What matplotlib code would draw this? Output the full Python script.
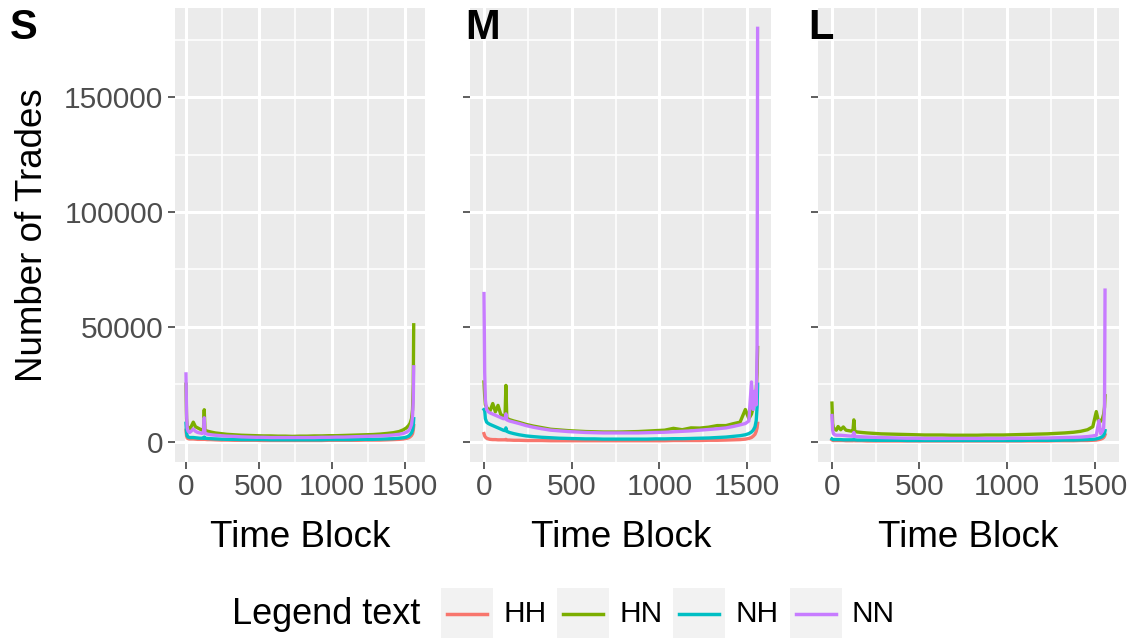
"""Number of trades per time block, three panels (S / M / L), ggplot-like look."""
import matplotlib
matplotlib.use('Agg')
import matplotlib.pyplot as plt
import numpy as np
from matplotlib.patches import Rectangle
from matplotlib.lines import Line2D

plt.rcParams['font.family'] = ['Liberation Sans', 'DejaVu Sans']

# ---- data (in thousands of trades) ----
blocks = [0, 4, 8, 15, 25, 35, 50, 65, 80, 95,
          110, 120, 125, 130, 145, 170, 200, 240, 280, 330,
          380, 430, 480, 530, 580, 630, 680, 730, 780, 830,
          880, 930, 980, 1030, 1080, 1130, 1180, 1230, 1280, 1330,
          1380, 1420, 1460, 1490, 1510, 1525, 1535, 1545, 1552, 1557,
          1560]

s_hh = [5.0, 2.5, 1.6, 1.3, 1.2, 1.2, 1.2, 1.1, 1.0, 1.0,
        1.0, 1.0, 1.4, 1.0, 0.9, 0.9, 0.8, 0.7, 0.7, 0.6,
        0.6, 0.6, 0.6, 0.5, 0.5, 0.5, 0.5, 0.5, 0.5, 0.5,
        0.5, 0.5, 0.6, 0.6, 0.6, 0.6, 0.6, 0.7, 0.7, 0.7,
        0.8, 0.9, 1.0, 1.2, 1.4, 1.7, 2.1, 2.7, 3.5, 5.0,
        7.0]
s_hn = [25.0, 10.0, 7.0, 6.0, 5.5, 6.5, 8.5, 6.5, 6.0, 5.5,
        5.0, 5.5, 13.9, 5.0, 4.6, 4.2, 3.8, 3.5, 3.2, 3.0,
        2.8, 2.7, 2.6, 2.5, 2.5, 2.4, 2.4, 2.3, 2.4, 2.4,
        2.5, 2.5, 2.6, 2.6, 2.7, 2.8, 2.9, 3.0, 3.1, 3.3,
        3.6, 3.9, 4.4, 5.2, 6.0, 7.0, 8.0, 10.0, 14.0, 25.0,
        50.9]
s_nh = [8.0, 4.0, 2.5, 2.0, 1.8, 1.8, 1.8, 1.7, 1.6, 1.5,
        1.5, 1.5, 2.0, 1.5, 1.4, 1.3, 1.2, 1.1, 1.0, 1.0,
        0.9, 0.9, 0.9, 0.9, 0.8, 0.8, 0.8, 0.8, 0.8, 0.8,
        0.8, 0.8, 0.9, 0.9, 0.9, 0.9, 1.0, 1.0, 1.0, 1.1,
        1.2, 1.3, 1.5, 1.7, 2.0, 2.4, 3.0, 3.8, 5.0, 7.0,
        10.0]
s_nn = [29.5, 12.0, 6.0, 4.5, 4.0, 4.5, 5.5, 4.5, 4.0, 3.8,
        3.6, 4.0, 10.4, 3.6, 3.3, 3.0, 2.8, 2.6, 2.4, 2.3,
        2.1, 2.0, 1.9, 1.9, 1.8, 1.8, 1.8, 1.8, 1.8, 1.8,
        1.8, 1.9, 1.9, 2.0, 2.0, 2.1, 2.2, 2.3, 2.4, 2.5,
        2.7, 2.9, 3.2, 3.6, 4.1, 4.8, 5.8, 7.5, 11.0, 18.0,
        32.6]

m_hh = [3.5, 2.5, 2.0, 1.5, 1.2, 1.0, 0.9, 0.9, 0.8, 0.8,
        0.8, 0.8, 1.0, 0.7, 0.7, 0.6, 0.6, 0.5, 0.5, 0.5,
        0.4, 0.4, 0.4, 0.4, 0.4, 0.4, 0.4, 0.4, 0.4, 0.4,
        0.4, 0.4, 0.4, 0.4, 0.5, 0.5, 0.5, 0.5, 0.6, 0.6,
        0.7, 0.8, 0.9, 1.1, 1.4, 1.8, 2.4, 3.2, 4.5, 6.0,
        8.0]
m_hn = [26.0, 20.0, 16.0, 15.0, 14.0, 13.5, 16.6, 13.0, 15.8, 12.0,
        11.0, 11.0, 24.5, 10.2, 9.6, 9.0, 8.4, 7.5, 6.8, 6.1,
        5.4, 5.1, 4.8, 4.6, 4.4, 4.3, 4.2, 4.2, 4.2, 4.3,
        4.4, 4.6, 4.8, 5.0, 5.8, 5.2, 6.0, 5.9, 6.3, 7.0,
        7.0, 7.8, 8.5, 14.0, 10.0, 12.0, 15.0, 18.0, 22.0, 30.0,
        41.0]
m_nh = [14.0, 13.6, 10.0, 8.5, 7.9, 7.5, 7.0, 6.5, 6.0, 5.5,
        5.0, 4.8, 6.0, 4.5, 4.0, 3.5, 3.0, 2.5, 2.2, 1.9,
        1.7, 1.5, 1.4, 1.3, 1.2, 1.2, 1.1, 1.1, 1.1, 1.1,
        1.1, 1.1, 1.2, 1.2, 1.3, 1.3, 1.4, 1.5, 1.6, 1.8,
        2.0, 2.3, 2.6, 3.0, 3.5, 4.2, 5.0, 6.5, 9.2, 15.0,
        25.0]
m_nn = [64.5, 30.0, 18.0, 14.0, 13.0, 12.5, 12.0, 11.5, 11.0, 10.5,
        10.0, 10.0, 12.1, 9.5, 9.0, 8.5, 7.9, 7.0, 6.3, 5.6,
        5.0, 4.7, 4.4, 4.2, 4.0, 3.9, 3.8, 3.8, 3.8, 3.8,
        3.8, 3.9, 4.0, 4.1, 4.3, 4.5, 4.7, 5.0, 5.3, 5.6,
        6.0, 6.6, 7.3, 7.9, 9.0, 26.0, 14.0, 22.0, 16.0, 40.0,
        180.0]

l_hh = [0.8, 0.6, 0.5, 0.5, 0.5, 0.5, 0.5, 0.5, 0.4, 0.4,
        0.4, 0.4, 0.6, 0.4, 0.4, 0.4, 0.3, 0.3, 0.3, 0.3,
        0.3, 0.3, 0.3, 0.3, 0.3, 0.3, 0.3, 0.3, 0.3, 0.3,
        0.3, 0.3, 0.3, 0.3, 0.3, 0.3, 0.3, 0.3, 0.4, 0.4,
        0.4, 0.5, 0.5, 0.6, 0.7, 0.9, 1.1, 1.4, 1.8, 2.4,
        3.0]
l_hn = [16.8, 8.0, 6.0, 5.5, 5.0, 6.6, 5.2, 6.4, 5.0, 4.8,
        4.6, 4.8, 9.5, 4.5, 4.2, 4.0, 3.8, 3.6, 3.4, 3.3,
        3.2, 3.1, 3.0, 2.9, 2.9, 2.9, 2.8, 2.8, 2.8, 2.8,
        2.9, 2.9, 2.9, 3.0, 3.1, 3.2, 3.3, 3.4, 3.6, 3.8,
        4.1, 4.5, 5.2, 6.5, 13.1, 8.0, 9.0, 10.0, 12.0, 15.0,
        20.0]
l_nh = [1.2, 1.0, 0.9, 0.9, 0.9, 0.9, 0.9, 0.8, 0.8, 0.8,
        0.8, 0.8, 1.0, 0.8, 0.7, 0.7, 0.7, 0.6, 0.6, 0.6,
        0.6, 0.5, 0.5, 0.5, 0.5, 0.5, 0.5, 0.5, 0.5, 0.5,
        0.5, 0.5, 0.5, 0.5, 0.5, 0.6, 0.6, 0.6, 0.6, 0.7,
        0.7, 0.8, 0.9, 1.0, 1.2, 1.5, 1.8, 2.2, 2.8, 3.6,
        4.8]
l_nn = [11.4, 5.0, 3.5, 3.0, 2.8, 2.8, 2.8, 2.7, 2.6, 2.5,
        2.4, 2.4, 4.0, 2.3, 2.2, 2.1, 2.0, 1.9, 1.8, 1.7,
        1.6, 1.5, 1.5, 1.4, 1.4, 1.4, 1.4, 1.4, 1.4, 1.4,
        1.4, 1.4, 1.4, 1.5, 1.5, 1.5, 1.6, 1.6, 1.7, 1.8,
        1.9, 2.0, 2.2, 2.5, 2.8, 9.2, 3.5, 4.5, 6.0, 15.0,
        66.0]

groups = ['HH', 'HN', 'NH', 'NN']
colors = ['#F8766D', '#7CAE00', '#00BFC4', '#C77CFF']
panel_names = ['S', 'M', 'L']
panel_series = [[s_hh, s_hn, s_nh, s_nn],
                [m_hh, m_hn, m_nh, m_nn],
                [l_hh, l_hn, l_nh, l_nn]]

xticks = [0, 500, 1000, 1500]
yticks = [0, 50000, 100000, 150000]

# ---- layout in pixels ----
W, H = 1131, 638
panel_px = [(174.6, 425.1), (470.3, 771.3), (818.3, 1118.7)]
top_px, bot_px = 7.7, 461.6
tag_x = [10, 465, 808]


def box(x0, x1):
    return [x0 / W, 1 - bot_px / H, (x1 - x0) / W, (bot_px - top_px) / H]


fig = plt.figure(figsize=(W / 100, H / 100), dpi=100)

# ggplot-style expansion of the shared ranges
all_y = np.concatenate([np.array(v) * 1000 for p in panel_series for v in p])
y_lo, y_hi = all_y.min(), all_y.max()
y_pad = (y_hi - y_lo) * 0.05
x_pad = (max(blocks) - min(blocks)) * 0.05

for i, (name, series) in enumerate(zip(panel_names, panel_series)):
    ax = fig.add_axes(box(*panel_px[i]))
    ax.set_facecolor('#EBEBEB')
    for sp in ax.spines.values():
        sp.set_visible(False)

    for vals, col in zip(series, colors):
        ax.plot(blocks, np.array(vals) * 1000, color=col, lw=2.4,
                solid_joinstyle='round', zorder=3)

    ax.set_xlim(min(blocks) - x_pad, max(blocks) + x_pad)
    ax.set_ylim(y_lo - y_pad, y_hi + y_pad)
    ax.set_xticks(xticks)
    ax.set_xticklabels([str(t) for t in xticks])
    ax.set_xticks([250, 750, 1250], minor=True)
    ax.set_yticks(yticks)
    ax.set_yticks([25000, 75000, 125000, 175000], minor=True)
    ax.set_yticklabels([str(t) for t in yticks] if i == 0 else [])

    ax.grid(which='major', color='white', lw=2.2, zorder=0)
    ax.grid(which='minor', color='white', lw=1.1, zorder=0)
    ax.set_axisbelow(True)
    ax.tick_params(which='major', length=5, width=1.1, color='#333333',
                   labelsize=21.5, labelcolor='#4D4D4D', pad=3)
    ax.tick_params(which='minor', length=0)

    ax.set_xlabel('Time Block', fontsize=26.5, labelpad=14)
    if i == 0:
        ax.set_ylabel('Number of Trades', fontsize=26.5, labelpad=10)

    fig.text(tag_x[i] / W, 1 - 8 / H, name, fontsize=30, fontweight='bold',
             ha='left', va='top')

# ---- legend drawn by hand (ggplot keys with grey boxes) ----
leg_y = 614
fig.text(232 / W, 1 - leg_y / H, 'Legend text', fontsize=26,
         ha='left', va='center')
key_x = [441, 557, 673, 790]
for kx, lab, col in zip(key_x, groups, colors):
    fig.add_artist(Rectangle((kx / W, 1 - 638 / H), 52 / W, 50 / H,
                             transform=fig.transFigure, facecolor='#F2F2F2',
                             edgecolor='none'))
    fig.add_artist(Line2D([(kx + 6) / W, (kx + 46) / W],
                          [1 - leg_y / H, 1 - leg_y / H],
                          transform=fig.transFigure, color=col, lw=2.5))
    fig.text((kx + 62) / W, 1 - leg_y / H, lab, fontsize=21.5,
             ha='left', va='center')

fig.savefig('out.png', dpi=100, facecolor='white')
